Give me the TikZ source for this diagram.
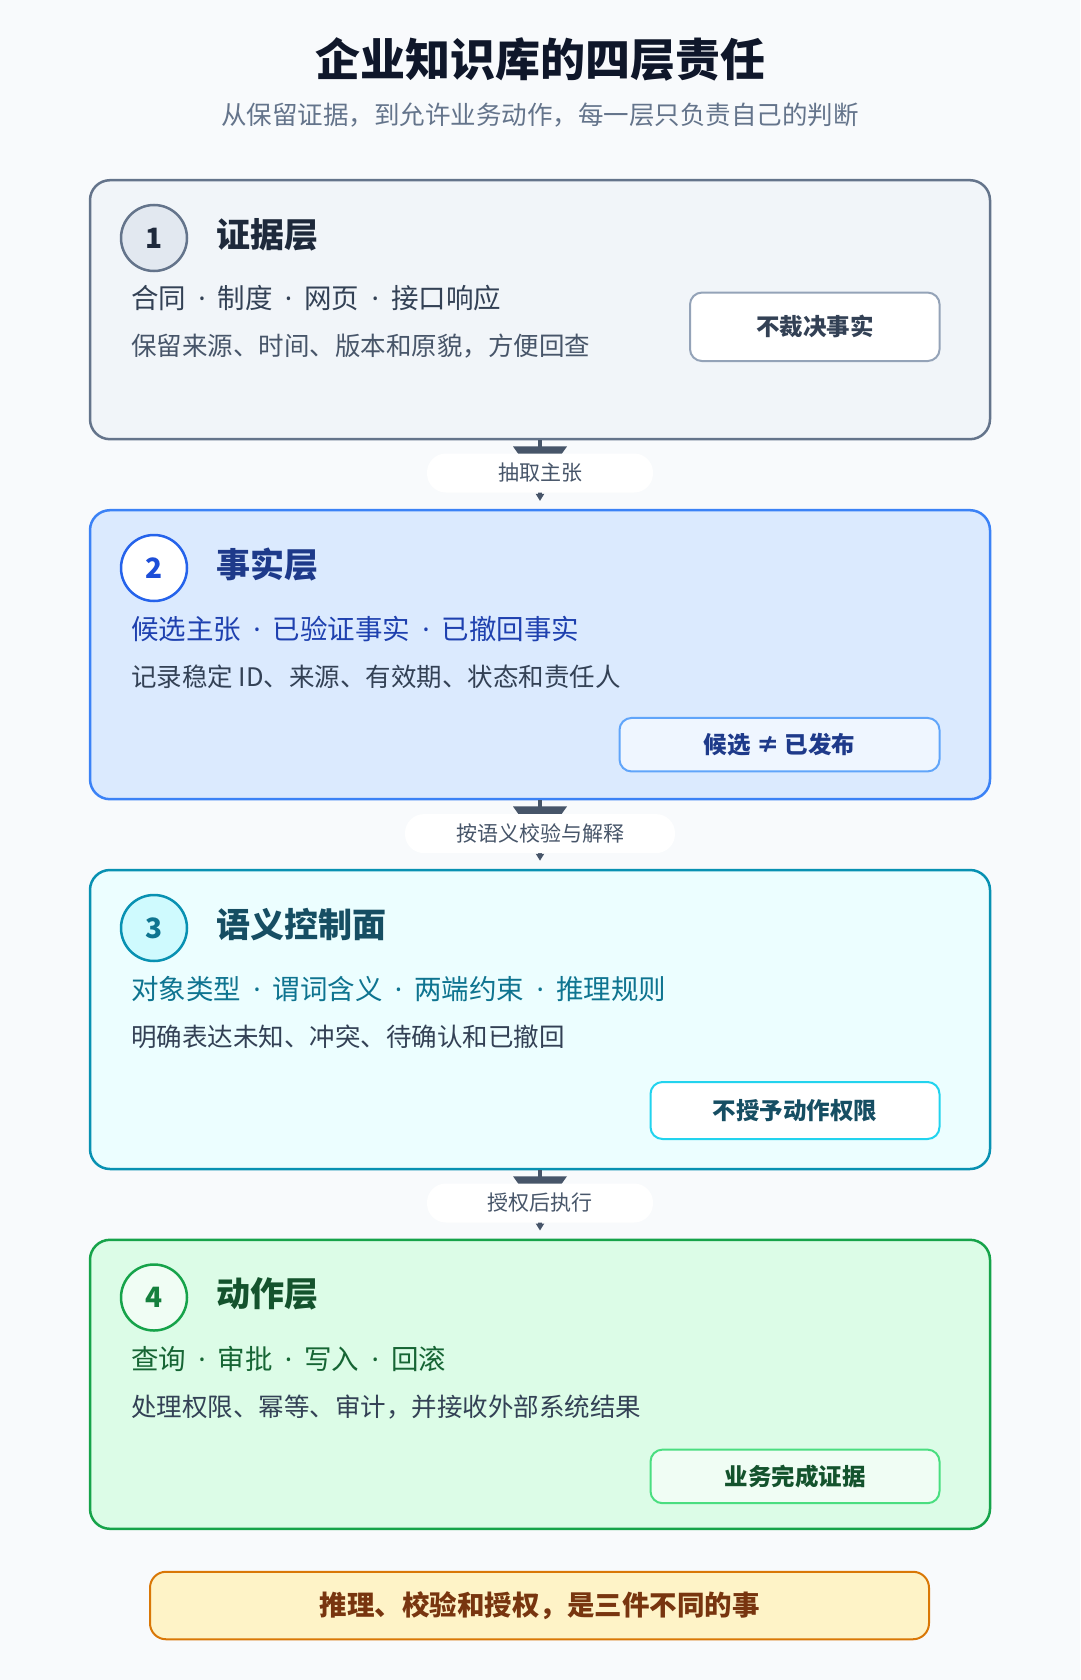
\documentclass[tikz,border=0pt]{standalone}
\usepackage{fontspec}
\setmainfont{Noto Sans CJK SC}
\newfontfamily\dotfont{Noto Sans}
\usetikzlibrary{arrows.meta}

\definecolor{bg}{HTML}{F8FAFC}
\definecolor{ink}{HTML}{0F172A}
\definecolor{muted}{HTML}{64748B}
\definecolor{body}{HTML}{334155}
\definecolor{linkcol}{HTML}{475569}
% layer colours
\definecolor{edgeA}{HTML}{64748B}
\definecolor{fillA}{HTML}{F1F5F9}
\definecolor{discA}{HTML}{E2E8F0}
\definecolor{headA}{HTML}{1E293B}
\definecolor{ruleA}{HTML}{94A3B8}
\definecolor{edgeB}{HTML}{3B82F6}
\definecolor{fillB}{HTML}{DBEAFE}
\definecolor{ringB}{HTML}{2563EB}
\definecolor{numB}{HTML}{1D4ED8}
\definecolor{headB}{HTML}{1E3A8A}
\definecolor{tagB}{HTML}{1E40AF}
\definecolor{ruleB}{HTML}{60A5FA}
\definecolor{paleB}{HTML}{EFF6FF}
\definecolor{edgeC}{HTML}{0891B2}
\definecolor{fillC}{HTML}{ECFEFF}
\definecolor{discC}{HTML}{CFFAFE}
\definecolor{numC}{HTML}{0E7490}
\definecolor{headC}{HTML}{164E63}
\definecolor{ruleC}{HTML}{22D3EE}
\definecolor{edgeD}{HTML}{16A34A}
\definecolor{fillD}{HTML}{DCFCE7}
\definecolor{discD}{HTML}{F0FDF4}
\definecolor{numD}{HTML}{15803D}
\definecolor{headD}{HTML}{14532D}
\definecolor{tagD}{HTML}{166534}
\definecolor{ruleD}{HTML}{4ADE80}
\definecolor{noteFill}{HTML}{FEF3C7}
\definecolor{noteEdge}{HTML}{D97706}
\definecolor{noteText}{HTML}{78350F}

\newcommand{\dotsep}{\makebox[1.15em]{\dotfont ·}}

\tikzset{
  layerbox/.style={draw, line width=2.5pt, rounded corners=20pt, minimum width=900, inner sep=0pt},
  disc/.style={circle, draw, line width=2.5pt, minimum size=66, inner sep=0pt, font=\fontsize{28pt}{32pt}\selectfont\bfseries},
  heading/.style={anchor=west, inner sep=0pt, font=\fontsize{34pt}{40pt}\selectfont\bfseries},
  tagline/.style={anchor=west, inner sep=0pt, font=\fontsize{27.5pt}{32pt}\selectfont},
  descline/.style={anchor=west, inner sep=0pt, text=body, font=\fontsize{25.5pt}{30pt}\selectfont},
  badge/.style={draw, line width=2pt, rounded corners=12pt, inner sep=0pt, font=\fontsize{23.5pt}{28pt}\selectfont\bfseries},
  pill/.style={fill=white, rounded corners=19pt, minimum height=39, inner sep=0pt, text=linkcol, font=\fontsize{21pt}{25pt}\selectfont},
  link/.style={draw=linkcol, line width=4pt, -{Triangle[width=8pt,length=7pt]}, shorten >=8pt},
}

\begin{document}
\begin{tikzpicture}[x=1pt,y=-1pt]
    \fill [bg] (0,0) rectangle (1080,1680);
    \useasboundingbox (0,0) rectangle (1080,1680);

    \node [text=ink, font=\fontsize{45pt}{52pt}\selectfont\bfseries] (title) at (540,59) {企业知识库的四层责任};
    \node [text=muted, font=\fontsize{25.5pt}{30pt}\selectfont] (subtitle) at (540,115) {从保留证据，到允许业务动作，每一层只负责自己的判断};

    % layer boxes
    \node [layerbox, draw=edgeA, fill=fillA, minimum height=259] (box1) at (540,309.7) {};
    \node [layerbox, draw=edgeB, fill=fillB, minimum height=289] (box2) at (540,654.7) {};
    \node [layerbox, draw=edgeC, fill=fillC, minimum height=299] (box3) at (540,1019.5) {};
    \node [layerbox, draw=edgeD, fill=fillD, minimum height=289] (box4) at (540,1384.3) {};

    % connectors between layers
    \draw [link] (box1.south) -- (box2.north);
    \draw [link] (box2.south) -- (box3.north);
    \draw [link] (box3.south) -- (box4.north);
    \fill [linkcol] ([xshift=-27pt,yshift=-6pt]box1.south) -- ([xshift=27pt,yshift=-6pt]box1.south) -- ([yshift=-44pt]box1.south) -- cycle;
    \fill [linkcol] ([xshift=-27pt,yshift=-6pt]box2.south) -- ([xshift=27pt,yshift=-6pt]box2.south) -- ([yshift=-44pt]box2.south) -- cycle;
    \fill [linkcol] ([xshift=-27pt,yshift=-6pt]box3.south) -- ([xshift=27pt,yshift=-6pt]box3.south) -- ([yshift=-44pt]box3.south) -- cycle;
    \node [pill, minimum width=226] (pull) at (540,473) {抽取主张};
    \node [pill, minimum width=270] (check) at (540,833.6) {按语义校验与解释};
    \node [pill, minimum width=226] (grant) at (540,1203) {授权后执行};

    % layer 1
    \node [disc, draw=edgeA, fill=discA, text=headA] (num1) at (154,238) {1};
    \node [heading, text=headA] (head1) at (216,235) {证据层};
    \node [tagline, text=body] (tags1) at (131,298) {合同\dotsep 制度\dotsep 网页\dotsep 接口响应};
    \node [descline, text=linkcol] (desc1) at (131,346) {保留来源、时间、版本和原貌，方便回查};
    \node [badge, draw=ruleA, fill=white, text=body, minimum width=249.6, minimum height=68.5] (rule1) at (814.8,326.8) {不裁决事实};

    % layer 2
    \node [disc, draw=ringB, fill=white, text=numB] (num2) at (154,568) {2};
    \node [heading, text=headB] (head2) at (216,565) {事实层};
    \node [tagline, text=tagB] (tags2) at (131,629) {候选主张\dotsep 已验证事实\dotsep 已撤回事实};
    \node [descline] (desc2) at (131,677) {记录稳定 ID、来源、有效期、状态和责任人};
    \node [badge, draw=ruleB, fill=paleB, text=headB, minimum width=320, minimum height=53.5] (rule2) at (779.5,744.7) {候选 ≠ 已发布};

    % layer 3
    \node [disc, draw=edgeC, fill=discC, text=numC] (num3) at (154,928) {3};
    \node [heading, text=headC] (head3) at (216,925) {语义控制面};
    \node [tagline, text=numC] (tags3) at (131,989) {对象类型\dotsep 谓词含义\dotsep 两端约束\dotsep 推理规则};
    \node [descline] (desc3) at (131,1037) {明确表达未知、冲突、待确认和已撤回};
    \node [badge, draw=ruleC, fill=white, text=headC, minimum width=289, minimum height=57] (rule3) at (795,1110.5) {不授予动作权限};

    % layer 4
    \node [disc, draw=edgeD, fill=discD, text=numD] (num4) at (154,1297.5) {4};
    \node [heading, text=headD] (head4) at (216,1294) {动作层};
    \node [tagline, text=tagD] (tags4) at (131,1358.6) {查询\dotsep 审批\dotsep 写入\dotsep 回滚};
    \node [descline] (desc4) at (131,1407) {处理权限、幂等、审计，并接收外部系统结果};
    \node [badge, draw=ruleD, fill=discD, text=headD, minimum width=289, minimum height=53.6] (rule4) at (795,1476.4) {业务完成证据};

    \node [draw=noteEdge, fill=noteFill, line width=2pt, rounded corners=16pt, minimum width=779, minimum height=67.5, inner sep=0pt, text=noteText, font=\fontsize{27.5pt}{32pt}\selectfont\bfseries] (note) at (539.5,1605.5) {推理、校验和授权，是三件不同的事};
\end{tikzpicture}
\end{document}
